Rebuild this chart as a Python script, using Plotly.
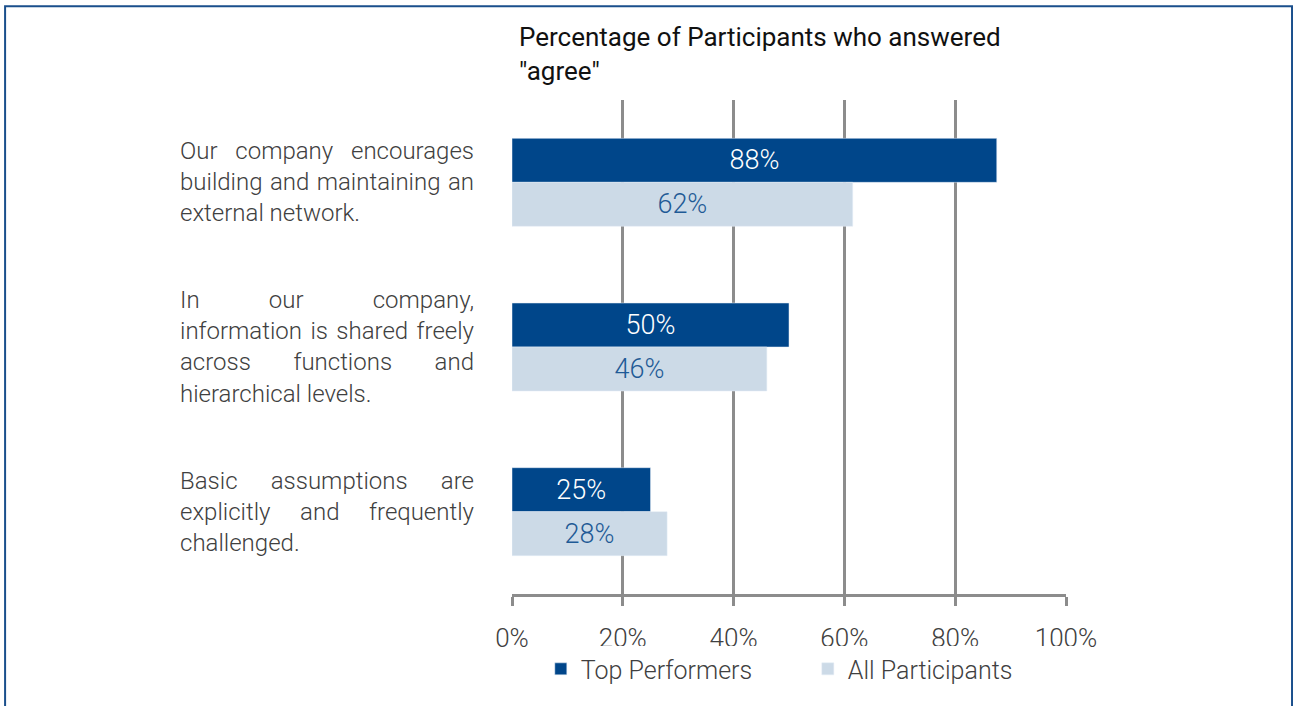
import plotly.graph_objects as go

statements = [
    "Our company encourages<br>building and maintaining an<br>external network.",
    "In our company,<br>information is shared freely<br>across functions and<br>hierarchical levels.",
    "Basic assumptions are<br>explicitly and frequently<br>challenged.",
]
keys = ["network", "information", "assumptions"]
top_performers = [87.5, 50, 25]
all_participants = [61.5, 46, 28]
tick_vals = [0, 20, 40, 60, 80, 100]
tick_text = ["0%", "20%", "40%", "60%", "80%", "100%"]

dark_blue = "#00468a"
light_blue = "#ccdae7"
grid = "#8c8c8c"
font = "Roboto"

fig = go.Figure()
fig.add_trace(go.Bar(
    name="Top Performers", y=keys, x=top_performers, orientation="h",
    marker_color=dark_blue, text=[f"{round(v)}%" for v in top_performers],
    textposition="inside", insidetextanchor="middle",
    textfont=dict(color="white", size=27, family=font, weight=300),
))
fig.add_trace(go.Bar(
    name="All Participants", y=keys, x=all_participants, orientation="h",
    marker_color=light_blue, text=[f"{round(v)}%" for v in all_participants],
    textposition="inside", insidetextanchor="middle",
    textfont=dict(color="#1f5a96", size=27, family=font, weight=300),
))

for k, s in zip(keys, statements):
    fig.add_annotation(x=-0.603, xref="paper", y=k, yref="y", text=s,
                       xanchor="left", yanchor="middle", align="left", showarrow=False,
                       font=dict(size=24, color="#404040", family=font, weight=300))

fig.add_annotation(x=0.009, xref="paper", y=1.162, yref="paper", yanchor="top", xanchor="left",
                   align="left", showarrow=False,
                   text='Percentage of Participants who answered<br>"agree"',
                   font=dict(size=26, color="#111111", family=font))

fig.add_shape(type="rect", xref="paper", yref="paper", x0=-0.915, x1=1.408, y0=-0.24, y1=1.19,
              line=dict(color="#1a4f8c", width=2), fillcolor="rgba(0,0,0,0)", layer="below")

fig.update_layout(
    width=1293, height=706,
    margin=dict(l=512, r=227, t=100, b=112),
    paper_bgcolor="white", plot_bgcolor="white",
    barmode="group", bargap=0.466, bargroupgap=0,
    font=dict(family=font, color="#404040"),
    xaxis=dict(range=[0, 100], tickvals=tick_vals, ticktext=tick_text, showgrid=True,
               gridcolor=grid, gridwidth=2.5, zeroline=False, showline=True, linecolor=grid,
               linewidth=2.5, ticks="outside", ticklen=9, tickcolor=grid, tickwidth=2.5,
               ticklabelstandoff=10,
               tickfont=dict(size=26, color="#404040", weight=300), fixedrange=True),
    yaxis=dict(categoryorder="array", categoryarray=keys, autorange="reversed",
               showticklabels=False, showgrid=False, zeroline=False, showline=False),
    legend=dict(orientation="h", x=0.052, xanchor="left", y=-0.152, yanchor="middle",
                entrywidth=222, font=dict(size=25, color="#404040", weight=300), traceorder="normal"),
    showlegend=True,
)

# drop the page margin and justify the statement lines like the original layout
justify = """
document.body.style.margin = '0';
var gd = document.getElementById('{plot_id}');
var W = 294;
gd.querySelectorAll('g.annotation text.annotation-text').forEach(function (t) {
  var lines = t.querySelectorAll('tspan.line');
  if (lines.length < 3) return;
  for (var i = 0; i < lines.length - 1; i++) {
    var ln = lines[i];
    var gaps = (ln.textContent.trim().match(/ +/g) || []).length;
    if (gaps > 0) {
      var w = ln.getComputedTextLength();
      ln.style.wordSpacing = ((W - w) / gaps) + 'px';
    }
  }
});
"""

fig.write_html("out.html", post_script=justify, config={"displayModeBar": False})
